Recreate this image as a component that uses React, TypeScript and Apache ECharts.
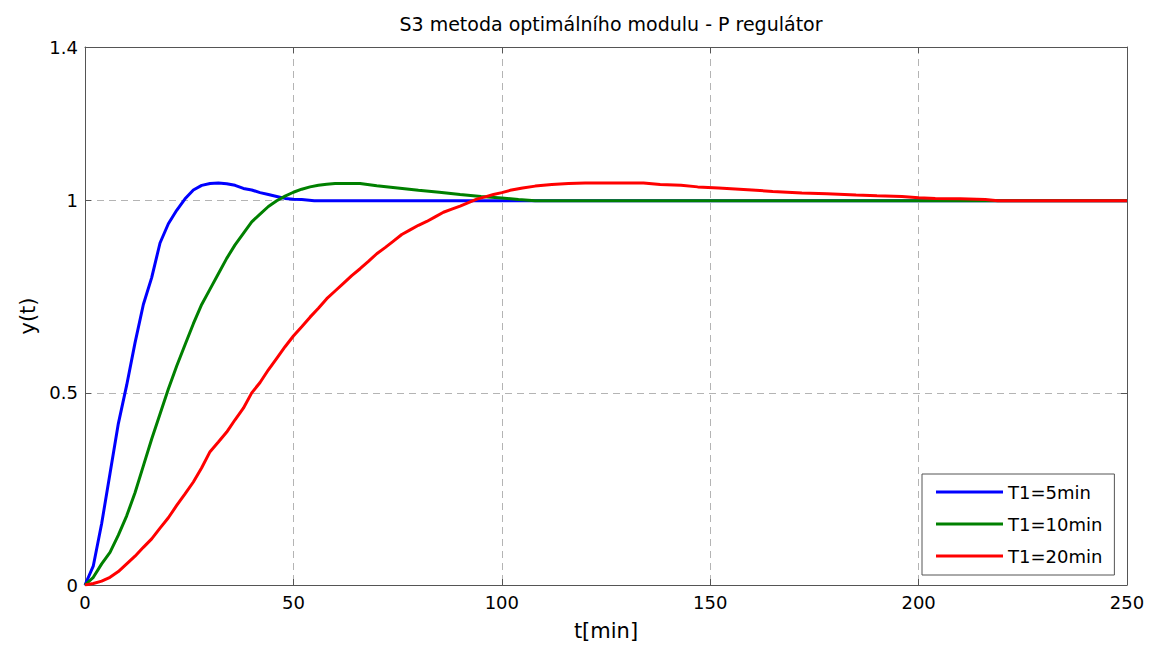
import React, { useEffect, useRef } from "react";
import * as echarts from "echarts";

// Step responses for the three process time constants
const tBlue = [0, 2, 4, 6, 8, 10, 12, 14, 16, 18, 20, 22, 24, 26, 28, 30, 32, 34, 36, 38, 40, 42, 44, 46, 48, 50, 52, 55, 250];
const yBlue = [0, 0.05, 0.16, 0.29, 0.42, 0.52, 0.63, 0.73, 0.8, 0.89, 0.94, 0.975, 1.005, 1.028, 1.04, 1.045, 1.046, 1.044, 1.04, 1.032, 1.028, 1.021, 1.016, 1.011, 1.006, 1.004, 1.003, 1.0, 1.0];

const tGreen = [0, 2, 4, 6, 8, 10, 12, 14, 16, 18, 20, 22, 24, 26, 28, 30, 32, 34, 36, 38, 40, 42, 44, 46, 48, 50, 52, 54, 56, 58, 60, 66, 70, 75, 80, 85, 90, 95, 100, 104, 108, 250];
const yGreen = [0, 0.02, 0.055, 0.085, 0.13, 0.18, 0.24, 0.31, 0.38, 0.445, 0.51, 0.57, 0.625, 0.68, 0.73, 0.77, 0.81, 0.85, 0.885, 0.915, 0.945, 0.965, 0.985, 1.0, 1.012, 1.022, 1.03, 1.036, 1.04, 1.043, 1.045, 1.045, 1.039, 1.033, 1.027, 1.022, 1.016, 1.011, 1.007, 1.003, 1.0, 1.0];

const tRed = [0, 2, 4, 6, 8, 10, 12, 14, 16, 18, 20, 22, 24, 26, 28, 30, 32, 34, 36, 38, 40, 42, 44, 46, 48, 50, 52, 54, 56, 58, 60, 62, 64, 66, 68, 70, 72, 74, 76, 78, 80, 82, 84, 86, 88, 90, 92, 94, 96, 98, 100, 102, 105, 108, 112, 116, 120, 134, 138, 143, 147, 152, 160, 165, 172, 178, 185, 190, 196, 200, 204, 210, 216, 219, 250];
const yRed = [0, 0.004, 0.01, 0.02, 0.035, 0.055, 0.075, 0.098, 0.12, 0.148, 0.175, 0.207, 0.237, 0.268, 0.305, 0.347, 0.372, 0.398, 0.43, 0.46, 0.5, 0.527, 0.56, 0.59, 0.62, 0.648, 0.672, 0.697, 0.72, 0.745, 0.765, 0.785, 0.805, 0.823, 0.842, 0.862, 0.878, 0.895, 0.912, 0.924, 0.936, 0.946, 0.958, 0.97, 0.978, 0.986, 0.995, 1.004, 1.01, 1.016, 1.021, 1.027, 1.033, 1.038, 1.042, 1.045, 1.046, 1.046, 1.042, 1.04, 1.036, 1.033, 1.028, 1.024, 1.02, 1.018, 1.015, 1.013, 1.011, 1.008, 1.006, 1.005, 1.003, 1.0, 1.0];

const seriesNames = ["T1=5min", "T1=10min", "T1=20min"];
const seriesColors = ["#0000ff", "#008000", "#ff0000"];

const titleText = "S3 metoda optimálního modulu - P regulátor";
const xName = "t[min]";
const yName = "y(t)";

const FONT = "DejaVu Sans";
const BOX = "#555555";

const pairs = (t: number[], y: number[]) => t.map((v, i) => [v, y[i]]);

export default function App() {
  const ref = useRef<HTMLDivElement>(null);

  useEffect(() => {
    if (!ref.current) return;
    const chart = echarts.init(ref.current, undefined, { renderer: "svg" });
    const lines = [pairs(tBlue, yBlue), pairs(tGreen, yGreen), pairs(tRed, yRed)];

    // top and right edges of the plot box, with inward ticks only
    const boxAxis = {
      axisLine: { show: true, onZero: false, lineStyle: { color: BOX, width: 1 } },
      axisTick: { show: true, inside: true, length: 6, lineStyle: { color: BOX } },
      axisLabel: { show: false },
      splitLine: { show: false },
    };

    chart.setOption({
      animation: false,
      backgroundColor: "#ffffff",
      textStyle: { fontFamily: FONT },
      title: {
        text: titleText,
        left: 606,
        textAlign: "center",
        top: 9,
        textStyle: { fontFamily: FONT, fontSize: 19, fontWeight: "normal", color: "#000" },
      },
      grid: { left: 85, right: 22, top: 47, bottom: 67, containLabel: false },
      legend: {
        orient: "vertical",
        left: 922,
        top: 474,
        padding: [9, 12, 10, 14],
        itemGap: 14,
        itemWidth: 67,
        itemHeight: 3,
        icon: "rect",
        backgroundColor: "#ffffff",
        borderColor: BOX,
        borderWidth: 1,
        borderRadius: 0,
        textStyle: { fontFamily: FONT, fontSize: 18, color: "#000" },
        data: seriesNames,
      },
      xAxis: [
        {
          type: "value",
          min: 0,
          max: 250,
          interval: 50,
          name: xName,
          nameLocation: "middle",
          nameGap: 35,
          nameTextStyle: { fontFamily: FONT, fontSize: 21, color: "#000" },
          axisLine: { show: true, onZero: false, lineStyle: { color: BOX, width: 1 } },
          axisTick: { show: true, inside: true, length: 6, lineStyle: { color: BOX } },
          axisLabel: { fontFamily: FONT, fontSize: 18, color: "#000", margin: 8 },
          splitLine: { show: true, lineStyle: { color: "#b4b4b4", type: [7, 5], width: 1 } },
        },
        { type: "value", position: "top", min: 0, max: 250, interval: 50, ...boxAxis },
      ],
      yAxis: [
        {
          type: "value",
          min: 0,
          max: 1.4,
          interval: 0.5,
          name: yName,
          nameLocation: "middle",
          nameGap: 46,
          nameTextStyle: { fontFamily: FONT, fontSize: 21, color: "#000" },
          axisLine: { show: true, onZero: false, lineStyle: { color: BOX, width: 1 } },
          axisTick: { show: true, inside: true, length: 6, lineStyle: { color: BOX } },
          axisLabel: { fontFamily: FONT, fontSize: 18, color: "#000", margin: 7 },
          splitLine: { show: true, lineStyle: { color: "#b4b4b4", type: [7, 5], width: 1 } },
        },
        { type: "value", position: "right", min: 0, max: 1.4, interval: 0.5, ...boxAxis },
      ],
      series: lines.map((data, i) => ({
        name: seriesNames[i],
        type: "line",
        xAxisIndex: 0,
        yAxisIndex: 0,
        data,
        showSymbol: false,
        symbol: "none",
        smooth: false,
        color: seriesColors[i],
        lineStyle: { color: seriesColors[i], width: 3 },
        emphasis: { disabled: true },
      })),
    });

    return () => chart.dispose();
  }, []);

  return (
    <div
      ref={ref}
      style={{ position: "fixed", left: 0, top: 0, width: 1149, height: 652 }}
    />
  );
}
